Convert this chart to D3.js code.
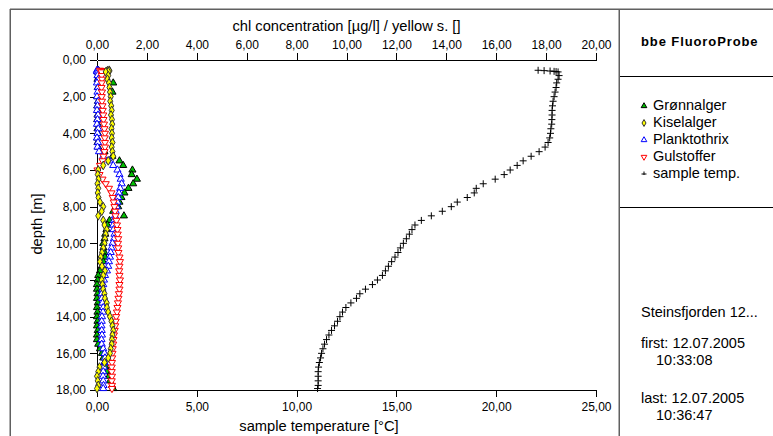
<!DOCTYPE html>
<html><head><meta charset="utf-8">
<script src="https://cdn.jsdelivr.net/npm/d3@7"></script>
<style>body{margin:0;background:#fff}svg{display:block}text{font-family:"Liberation Sans",Arial,sans-serif}</style>
</head><body>
<script>
// ---- data ----
const depth = [0.56,0.58,0.60,0.62,0.63,0.65,0.85,1.05,1.25,1.5,1.75,2.0,2.25,2.5,2.75,3.0,3.25,3.5,3.75,4.0,4.25,4.5,4.75,5.0,5.25,5.5,5.75,6.0,6.25,6.5,6.75,7.0,7.25,7.5,7.75,8.0,8.25,8.5,8.75,9.0,9.25,9.5,9.75,10.0,10.25,10.5,10.75,11.0,11.25,11.5,11.75,12.0,12.25,12.5,12.75,13.0,13.25,13.5,13.75,14.0,14.25,14.5,14.75,15.0,15.25,15.5,15.75,16.0,16.25,16.5,16.75,17.0,17.25,17.5,17.75,17.92];
const temp = [22.1,22.4,22.7,22.9,23.0,23.1,23.15,23.1,23.03,23.0,22.95,22.9,22.85,22.82,22.8,22.8,22.79,22.78,22.74,22.72,22.68,22.6,22.45,22.15,21.75,21.35,21.05,20.7,20.4,19.95,19.35,19.0,18.9,18.55,18.05,17.75,17.3,16.75,16.25,15.93,15.78,15.65,15.5,15.35,15.2,15.08,14.93,14.76,14.6,14.45,14.3,14.05,13.8,13.45,13.17,13.0,12.72,12.47,12.3,12.17,12.05,11.9,11.75,11.62,11.5,11.4,11.32,11.25,11.2,11.14,11.1,11.08,11.08,11.08,11.08,11.05];
const gronnalger = [0.05,0.02,0.06,0.03,0.04,0.02,0.04,0.02,0.65,0.03,0.62,0.02,0.04,0.01,0.03,0.02,0.01,0.03,0.02,0.04,0.01,0.02,0.05,0.3,0.62,0.9,1.05,1.42,1.39,1.6,1.45,1.26,1.1,0.98,0.9,0.85,0.65,1.08,0.5,0.42,0.38,0.33,0.3,0.25,0.26,0.3,0.32,0.25,0.19,0.12,0.05,0.03,0.0,0.0,0.02,0.0,0.03,0.0,0.02,0.0,0.02,0.0,0.03,0.0,0.0,0.05,0.12,0.2,0.25,0.3,0.35,0.4,0.48,0.52,0.6,0.65];
const kiselalger = [0.49,0.42,0.5,0.38,0.45,0.35,0.45,0.42,0.48,0.5,0.52,0.55,0.53,0.57,0.59,0.56,0.6,0.61,0.58,0.6,0.59,0.62,0.59,0.62,0.65,0.45,0.25,0.05,0.03,0.06,0.02,0.05,0.03,0.06,0.12,0.25,0.19,0.05,0.25,0.3,0.39,0.35,0.32,0.3,0.25,0.2,0.15,0.12,0.2,0.32,0.25,0.19,0.22,0.25,0.3,0.32,0.39,0.4,0.45,0.52,0.58,0.62,0.65,0.62,0.6,0.59,0.55,0.52,0.45,0.3,0.1,0.05,0.0,0.03,0.05,0.0];
const planktothrix = [0.0,0.05,0.02,0.08,0.0,0.04,0.02,0.05,0.0,0.04,0.02,0.0,0.05,0.02,0.0,0.04,0.02,0.0,0.05,0.02,0.0,0.04,0.02,0.08,0.25,0.5,0.65,0.82,0.9,0.95,0.99,0.93,0.88,0.85,0.82,0.79,0.75,0.72,0.68,0.65,0.66,0.7,0.68,0.62,0.58,0.55,0.52,0.48,0.45,0.4,0.32,0.28,0.25,0.22,0.19,0.2,0.22,0.25,0.24,0.2,0.19,0.18,0.19,0.2,0.18,0.19,0.25,0.3,0.32,0.3,0.27,0.25,0.24,0.25,0.26,0.25];
const gulstoffer = [0.12,0.2,0.3,0.39,0.25,0.18,0.19,0.2,0.19,0.18,0.2,0.19,0.2,0.22,0.23,0.25,0.26,0.28,0.3,0.32,0.31,0.32,0.32,0.3,0.26,0.22,0.12,0.02,0.1,0.22,0.35,0.48,0.58,0.63,0.67,0.7,0.72,0.74,0.78,0.8,0.82,0.83,0.85,0.84,0.85,0.86,0.9,0.92,0.9,0.89,0.9,0.92,0.9,0.9,0.88,0.86,0.84,0.82,0.8,0.77,0.75,0.73,0.71,0.68,0.66,0.65,0.63,0.62,0.61,0.6,0.59,0.59,0.6,0.59,0.6,0.6];
const chlTicks = [0,2,4,6,8,10,12,14,16,18,20];
const tempTicks = [0,5,10,15,20,25];
const depthTicks = [0,2,4,6,8,10,12,14,16,18];
const seriesNames = ["Grønnalger","Kiselalger","Planktothrix","Gulstoffer","sample temp."];
const infoLines = ["Steinsfjorden 12...","first: 12.07.2005","10:33:08","last: 12.07.2005","10:36:47"];

const W=773,H=436;
const svg=d3.select("body").append("svg").attr("width",W).attr("height",H);
const fmt=d=>d.toFixed(2).replace(".",",");

const y=d3.scaleLinear().domain([0,18]).range([60,390]);
const xc=d3.scaleLinear().domain([0,20]).range([97,596]);
const xt=d3.scaleLinear().domain([0,25]).range([97,596]);

// frame
const fr=svg.append("g").attr("stroke","#606060").attr("stroke-width",1.5).attr("fill","none");
fr.append("line").attr("x1",10).attr("x2",W).attr("y1",9.25).attr("y2",9.25);
fr.append("line").attr("x1",10.25).attr("x2",10.25).attr("y1",9).attr("y2",H);
fr.append("line").attr("x1",619.25).attr("x2",619.25).attr("y1",9).attr("y2",H);
svg.append("line").attr("x1",620).attr("x2",W).attr("y1",76.5).attr("y2",76.5).attr("stroke","#000");
svg.append("line").attr("x1",620).attr("x2",W).attr("y1",207.5).attr("y2",207.5).attr("stroke","#000");

// axes
function styleAxis(g){g.selectAll("path,line").attr("stroke","#000").attr("shape-rendering","crispEdges");g.selectAll("text").attr("font-size",12).attr("fill","#000").attr("font-family","'Liberation Sans',Arial,sans-serif");}
const gTop=svg.append("g").attr("transform","translate(0,60)").call(d3.axisTop(xc).tickValues(chlTicks).tickFormat(fmt).tickSize(7).tickSizeOuter(0).tickPadding(4));
styleAxis(gTop);
const gBot=svg.append("g").attr("transform","translate(0,390)").call(d3.axisBottom(xt).tickValues(tempTicks).tickFormat(fmt).tickSize(7).tickSizeOuter(0).tickPadding(5));
styleAxis(gBot);
const gLeft=svg.append("g").attr("transform","translate(97,0)").call(d3.axisLeft(y).tickValues(depthTicks).tickFormat(fmt).tickSize(7).tickSizeOuter(0).tickPadding(4));
styleAxis(gLeft);

svg.append("text").attr("x",346.5).attr("y",31).attr("text-anchor","middle").attr("font-size",14.7).text("chl concentration [µg/l] / yellow s. []");
svg.append("text").attr("x",319).attr("y",431).attr("text-anchor","middle").attr("font-size",14.7).text("sample temperature [°C]");
svg.append("text").attr("transform","translate(42,224) rotate(-90)").attr("text-anchor","middle").attr("font-size",14.7).text("depth [m]");

// markers
const triUp=d3.symbol().type(d3.symbolTriangle).size(22)();
const triDown=triUp;
const diamond=d3.symbol().type(d3.symbolDiamond).size(22)();
const plus="M-3.5,0H3.5M0,-3.5V3.5";

function drawSeries(vals,xs,path,fill,stroke,rot){
  svg.append("g").selectAll("path").data(vals).join("path")
   .attr("d",path)
   .attr("transform",(v,i)=>`translate(${xs(v)},${y(depth[i])})`+(rot?" rotate(180)":""))
   .attr("fill",fill).attr("stroke",stroke).attr("stroke-width",1);
}
drawSeries(temp,xt,plus,"none","#000",false);
drawSeries(gronnalger,xc,triUp,"#00c000","#000",false);
drawSeries(planktothrix,xc,triUp,"#fff","#0000ff",false);
drawSeries(gulstoffer,xc,triDown,"#fff","#ff0000",true);
drawSeries(kiselalger,xc,diamond,"#ffff00","#333",false);

// right panel
svg.append("text").attr("x",641).attr("y",46).attr("font-size",13).attr("letter-spacing",0.9).attr("font-weight","bold").attr("font-family","'DejaVu Sans',Verdana,sans-serif").text("bbe FluoroProbe");
const legMarks=[{p:triUp,f:"#00c000",s:"#000",r:false},{p:diamond,f:"#ffff00",s:"#333",r:false},{p:triUp,f:"#fff",s:"#0000ff",r:false},{p:triDown,f:"#fff",s:"#ff0000",r:true},{p:plus,f:"none",s:"#000",r:false}];
const small=d3.symbol().type(d3.symbolTriangle).size(14)();
const smallD=d3.symbol().type(d3.symbolDiamond).size(14)();
seriesNames.forEach((n,i)=>{
  const yy=105+i*17;
  const m=legMarks[i];
  let p=m.p===plus?"M-2.5,0H2.5M0,-2.5V1":(m.p===diamond?smallD:small);
  svg.append("path").attr("d",p).attr("transform",`translate(644,${yy+1})`+(m.r?" rotate(180)":"")).attr("fill",m.f).attr("stroke",m.s).attr("stroke-width",1);
  svg.append("text").attr("x",653).attr("y",yy+5).attr("font-size",14.5).text(n);
});
const infoPos=[[641,317],[641,348],[656,365],[641,403],[656,420]];
infoLines.forEach((t,i)=>svg.append("text").attr("x",infoPos[i][0]).attr("y",infoPos[i][1]).attr("font-size",14.5).text(t));
</script>
</body></html>
